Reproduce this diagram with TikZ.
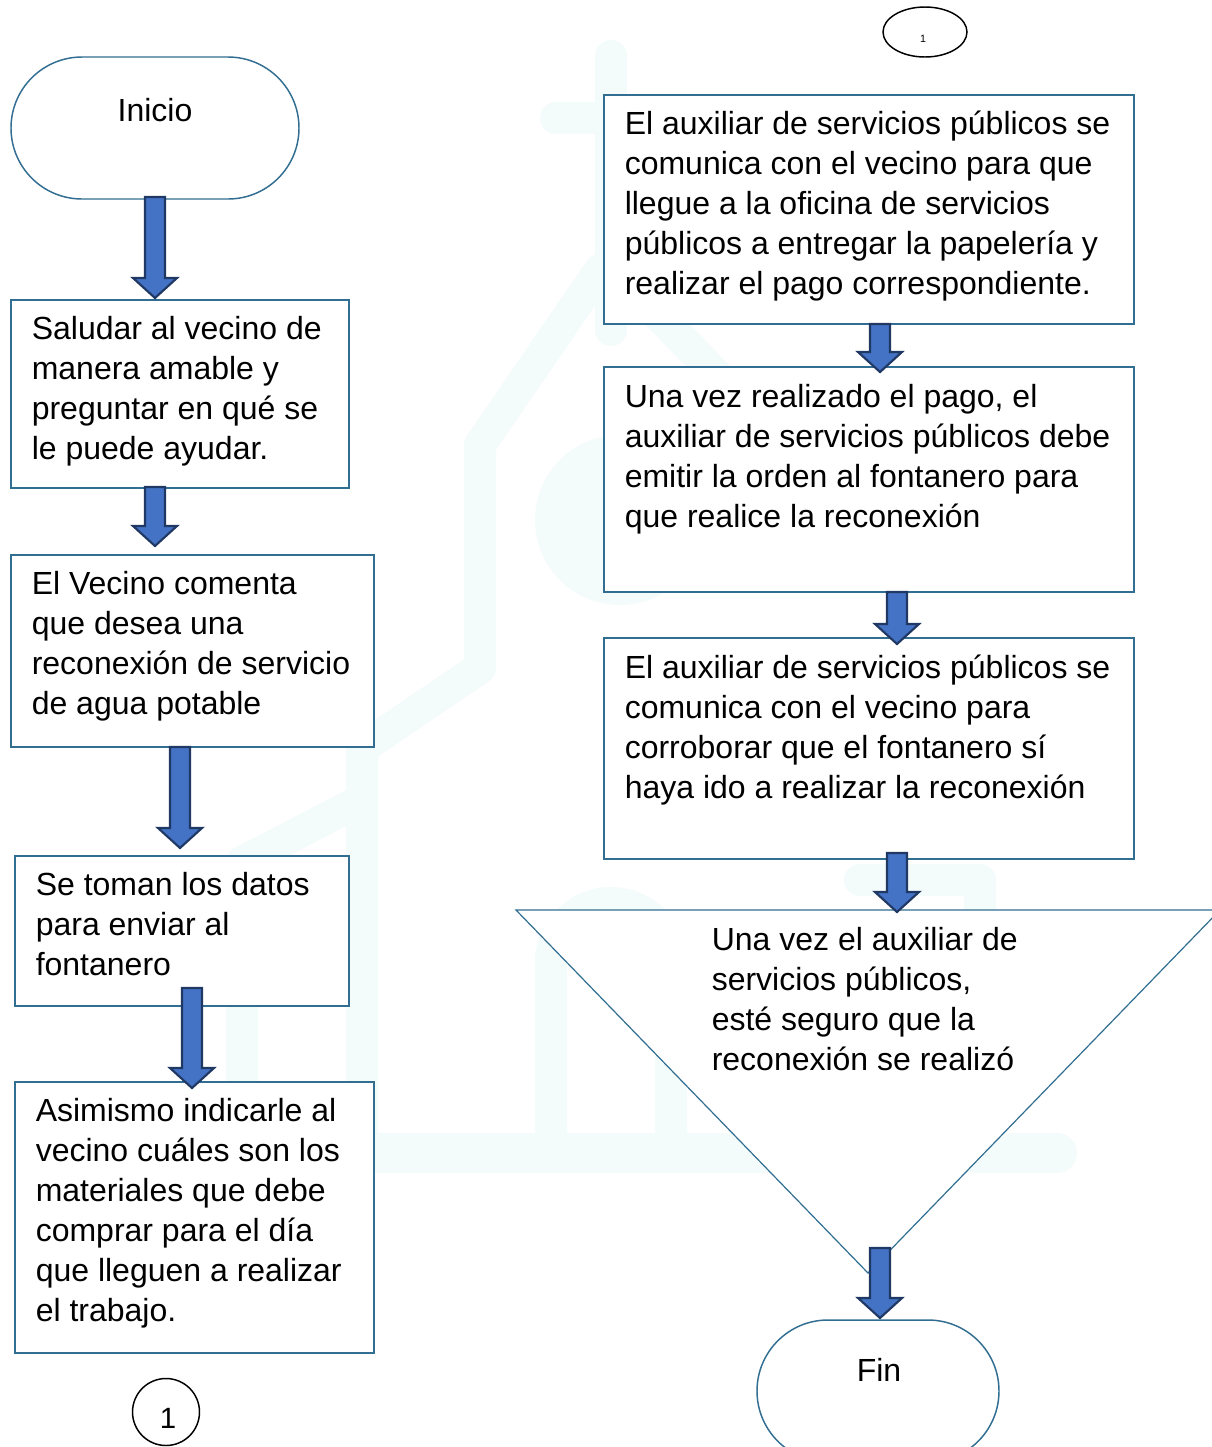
\documentclass[tikz,border=0pt]{standalone}
\usepackage{fontspec}
\setmainfont{Liberation Sans}
\usetikzlibrary{calc,shapes.geometric}
\definecolor{bordc}{RGB}{49,110,145}
\definecolor{arrfill}{RGB}{68,114,196}
\definecolor{arrline}{RGB}{32,56,100}
\definecolor{wm}{RGB}{244,251,251}
\newcommand{\tstrut}{\rule{0pt}{25pt}}
\newcommand{\flecha}[2]{\draw[blk] let \p1=(#1), \p2=(#2) in
  (\x1-7.5pt,\y1) -- (\x1+7.5pt,\y1) -- (\x1+7.5pt,\y2+15pt) -- (\x1+16.5pt,\y2+15pt)
  -- (\x1,\y2) -- (\x1-16.5pt,\y2+15pt) -- (\x1-7.5pt,\y2+15pt) -- cycle;}
\begin{document}
\begin{tikzpicture}[x=0.75pt,y=-0.75pt,
  box/.style={draw=bordc, fill=white, line width=1.1pt, rectangle, inner sep=0pt},
  term/.style={box, rounded corners=53.25pt, minimum height=106.5pt},
  txt/.style={anchor=north west, inner sep=0pt, align=left, font=\fontsize{24pt}{30pt}\selectfont, text=black},
  lbl/.style={anchor=base, inner sep=0pt, font=\fontsize{24pt}{30pt}\selectfont, text=black},
  blk/.style={fill=arrfill, draw=arrline, line width=1.6pt, line join=miter},
  wmline/.style={draw=wm, line width=24pt, line cap=round, line join=round},
  conn/.style={draw=black, line width=1.1pt, fill=white}
]
\useasboundingbox (0,0) rectangle (1212,1447);
\clip (0,0) rectangle (1212,1447);
\fill[white] (0,0) rectangle (1212,1447);

% faint watermark
\fill[wm] (620,520) circle (63.75pt);
\draw[wmline] (611,56) -- (611,330);
\draw[wmline] (556,118) -- (700,118);
\draw[wmline] (600,270) -- (480,445) -- (480,668) -- (362,748) -- (362,1140);
\draw[wmline] (615,270) -- (760,420);
\draw[wmline] (362,800) -- (242,862) -- (242,1140);
\draw[wmline] (551,1135) -- (551,963) arc[start angle=180, end angle=0, radius=45pt] -- (671,1135);
\draw[wmline] (860,880) -- (980,880) -- (980,1130);
\draw[wmline, line width=30pt] (245,1153) -- (1057,1153);

% left column shapes
\node[term, minimum width=216pt] (ini) at (155,128) {};
\node[box, minimum width=253.5pt, minimum height=141pt] (b1) at (180,394) {};
\node[box, minimum width=272.25pt, minimum height=144pt] (b2) at (192.5,651) {};
\node[box, minimum width=250.5pt, minimum height=112.5pt] (b3) at (182,931) {};
\node[box, minimum width=269.25pt, minimum height=203.25pt] (b4) at (194.5,1217.5) {};
\node[conn, circle, minimum size=50.25pt, inner sep=0pt] (c1) at (166,1412) {};

% right column shapes
\node[conn, ellipse, minimum width=63pt, minimum height=37.5pt, inner sep=0pt] (c2) at (925,32) {};
\node[box, minimum width=397.5pt, minimum height=171.75pt] (b5) at (869,209.5) {};
\node[box, minimum width=397.5pt, minimum height=168.75pt] (b6) at (869,479.5) {};
\node[box, minimum width=397.5pt, minimum height=165.75pt] (b7) at (869,748.5) {};
\coordinate (tL) at (516,910);
\coordinate (tR) at (1220,910);
\coordinate (tB) at (868,1273);
\draw[draw=bordc, fill=white, line width=0.9pt] (tL) -- (tR) -- (tB) -- cycle;
\node[term, minimum width=181.5pt] (fin) at (878,1391) {};

% block arrows
\coordinate (a1s) at (155,197);  \coordinate (a1e) at (155,298);
\coordinate (a2s) at (155,487);  \coordinate (a2e) at (155,546);
\coordinate (a3s) at (180,747);  \coordinate (a3e) at (180,848);
\coordinate (a4s) at (192,988);  \coordinate (a4e) at (192,1088);
\coordinate (a5s) at (880,324);  \coordinate (a5e) at (880,372);
\coordinate (a6s) at (897,592);  \coordinate (a6e) at (897,644);
\coordinate (a7s) at (897,853);  \coordinate (a7e) at (897,912);
\coordinate (a8s) at (880,1248); \coordinate (a8e) at (880,1318);
\flecha{a1s}{a1e}
\flecha{a2s}{a2e}
\flecha{a3s}{a3e}
\flecha{a4s}{a4e}
\flecha{a5s}{a5e}
\flecha{a6s}{a6e}
\flecha{a7s}{a7e}
\flecha{a8s}{a8e}

% texts
\node[lbl] (tini) at (155,121) {Inicio};
\node[txt] (t1) at (31.5,306.2) {\tstrut Saludar al vecino de\\manera amable y\\preguntar en qué se\\le puede ayudar.};
\node[txt] (t2) at (31.5,561.2) {\tstrut El Vecino comenta\\que desea una\\reconexión de servicio\\de agua potable};
\node[txt] (t3) at (35.5,862.2) {\tstrut Se toman los datos\\para enviar al\\fontanero};
\node[txt] (t4) at (35.5,1088.2) {\tstrut Asimismo indicarle al\\vecino cuáles son los\\materiales que debe\\comprar para el día\\que lleguen a realizar\\el trabajo.};
\node[anchor=base, inner sep=0pt, font=\fontsize{22pt}{26pt}\selectfont] (tc1) at (168,1428) {1};
\node[anchor=base, inner sep=0pt, font=\fontsize{8pt}{9pt}\selectfont] (tc2) at (923,42) {1};
\node[txt] (t5) at (624.5,101.2) {\tstrut El auxiliar de servicios públicos se\\comunica con el vecino para que\\llegue a la oficina de servicios\\públicos a entregar la papelería y\\realizar el pago correspondiente.};
\node[txt] (t6) at (624.5,374.2) {\tstrut Una vez realizado el pago, el\\auxiliar de servicios públicos debe\\emitir la orden al fontanero para\\que realice la reconexión};
\node[txt] (t7) at (624.5,645.2) {\tstrut El auxiliar de servicios públicos se\\comunica con el vecino para\\corroborar que el fontanero sí\\haya ido a realizar la reconexión};
\node[txt] (t8) at (711.5,917.2) {\tstrut Una vez el auxiliar de\\servicios públicos,\\esté seguro que la\\reconexión se realizó};
\node[lbl] (tfin) at (879,1381) {Fin};
\end{tikzpicture}
\end{document}
